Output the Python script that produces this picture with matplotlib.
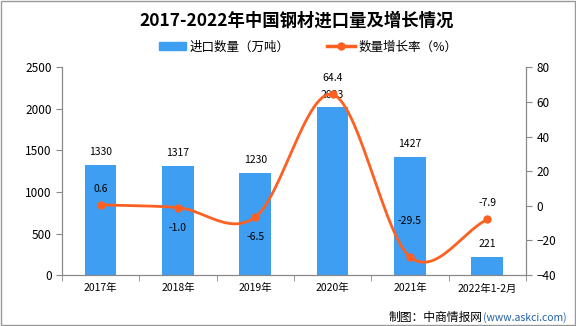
import numpy as np
import matplotlib
matplotlib.use("Agg")
from matplotlib import pyplot as plt
from matplotlib.lines import Line2D
from matplotlib.patches import Patch

plt.rcParams['font.family'] = ['Noto Sans CJK SC', 'DejaVu Sans']

years = ["2017年", "2018年", "2019年", "2020年", "2021年", "2022年1-2月"]
imports = [1330, 1317, 1230, 2023, 1427, 221]
growth = [0.6, -1.0, -6.5, 64.4, -29.5, -7.9]

bar_color = "#3e9ef2"
line_color = "#fe6021"


def catmull_rom(x, y, n=30):
    # smooth curve through the points (Excel style)
    x = np.asarray(x, float)
    y = np.asarray(y, float)
    px = np.concatenate([[2 * x[0] - x[1]], x, [2 * x[-1] - x[-2]]])
    py = np.concatenate([[2 * y[0] - y[1]], y, [2 * y[-1] - y[-2]]])
    xs, ys = [], []
    t = np.linspace(0, 1, n)
    for i in range(1, len(px) - 2):
        for p, out in ((px, xs), (py, ys)):
            p0, p1, p2, p3 = p[i - 1], p[i], p[i + 1], p[i + 2]
            out.extend(0.5 * (2 * p1 + (-p0 + p2) * t
                              + (2 * p0 - 5 * p1 + 4 * p2 - p3) * t ** 2
                              + (-p0 + 3 * p1 - 3 * p2 + p3) * t ** 3))
    return np.array(xs), np.array(ys)


fig = plt.figure(figsize=(5.76, 3.26), dpi=100)
ax = fig.add_axes([0.1076, 0.1564, 0.8054, 0.6366])
ax2 = ax.twinx()

x = np.arange(len(years))
ax.bar(x, imports, width=0.41, color=bar_color, zorder=2)
for xi, v in zip(x, imports):
    ax.text(xi, v + 90, str(v), ha='center', va='bottom', fontsize=7.5)

ax.set_xlim(-0.5, len(years) - 0.5)
ax.set_ylim(0, 2500)
ax.set_yticks(range(0, 2501, 500))
ax.set_xticks(x)
ax.set_xticklabels(years, fontsize=7.5)
ax.set_xticks(np.arange(-0.5, len(years), 1), minor=True)
ax.tick_params(axis='x', which='major', length=0, pad=6)
ax.tick_params(axis='x', which='minor', length=4, color='#888888')
ax.tick_params(axis='y', labelsize=8.5, length=4, color='#888888')

sx, sy = catmull_rom(x, growth)
ax2.plot(sx, sy, color=line_color, lw=2, zorder=3)
ax2.plot(x, growth, 'o', color=line_color, ms=5, zorder=4)
ax2.set_ylim(-40, 80)
ax2.set_yticks(range(-40, 81, 20))
ax2.tick_params(axis='y', labelsize=8.5, length=4, color='#888888')

offsets = [8, -11, -11, 8, 22, 8]
for xi, v, off in zip(x, growth, offsets):
    va = 'bottom' if off > 0 else 'top'
    ax2.annotate(f"{v:.1f}", (xi, v), xytext=(0, off), textcoords='offset points',
                 ha='center', va=va, fontsize=7.5)

for a in (ax, ax2):
    a.spines['top'].set_visible(False)
    for s in ('left', 'right', 'bottom'):
        a.spines[s].set_color('#888888')

fig.text(0.515, 0.938, "2017-2022年中国钢材进口量及增长情况", ha='center', va='center',
         fontsize=12.5, fontweight='bold')

handles = [Patch(color=bar_color, label="进口数量（万吨）"),
           Line2D([], [], color=line_color, lw=2.5, marker='o', ms=5, label="数量增长率（%）")]
fig.legend(handles=handles, loc='center', bbox_to_anchor=(0.535, 0.856), ncol=2,
           frameon=False, fontsize=9, handlelength=2.2, columnspacing=3, handletextpad=0.3)

fig.text(0.838, 0.027, "制图：中商情报网", ha='right', va='center', fontsize=8.5)
fig.text(0.838, 0.027, "(www.askci.com)", ha='left', va='center', fontsize=7.5, color='#1f5fa8')

fig.patches.append(plt.Rectangle((0.001, 0.002), 0.997, 0.995, transform=fig.transFigure,
                                 fill=False, edgecolor='#999999', lw=1))

fig.savefig("out.png", dpi=100)
